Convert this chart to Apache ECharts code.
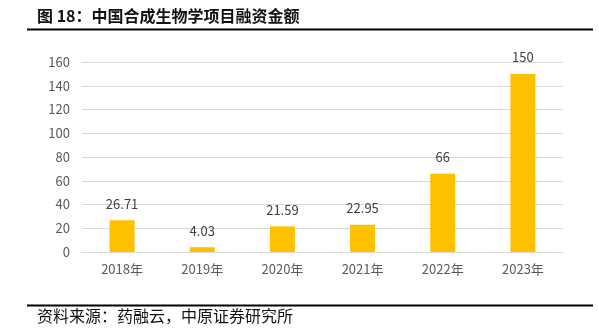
<!DOCTYPE html>
<html>
<head>
<meta charset="utf-8">
<script src="https://cdn.jsdelivr.net/npm/echarts@6/dist/echarts.min.js"></script>
<style>
html,body{margin:0;padding:0;background:#fff;}
#c{width:599px;height:333px;}
</style>
</head>
<body>
<div id="c"></div>
<script>
var titleText = '图 18：中国合成生物学项目融资金额';
var sourceText = '资料来源：药融云，中原证券研究所';
var categories = ['2018年', '2019年', '2020年', '2021年', '2022年', '2023年'];
var values = [26.71, 4.03, 21.59, 22.95, 66, 150];
var labelTexts = ['26.71', '4.03', '21.59', '22.95', '66', '150'];

var chart = echarts.init(document.getElementById('c'), null, {renderer: 'canvas'});
var font = '"Noto Sans CJK SC", "Noto Sans", sans-serif';
chart.setOption({
  animation: false,
  backgroundColor: '#ffffff',
  grid: {left: 82, right: 36, top: 62, bottom: 81},
  xAxis: {
    type: 'category',
    data: categories,
    axisLine: {show: true, lineStyle: {color: '#d9d9d9', width: 1}},
    axisTick: {show: false},
    axisLabel: {color: '#595959', fontSize: 13, margin: 11, fontFamily: font}
  },
  yAxis: {
    type: 'value',
    min: 0, max: 160, interval: 20,
    axisLine: {show: false},
    axisTick: {show: false},
    splitLine: {lineStyle: {color: '#d9d9d9', width: 1}},
    axisLabel: {color: '#595959', fontSize: 13, margin: 12, fontFamily: font}
  },
  series: [{
    type: 'bar',
    data: values,
    barWidth: 25,
    itemStyle: {color: '#FFC000'},
    label: {
      show: true,
      position: 'top',
      distance: 10,
      color: '#404040',
      fontSize: 13,
      fontFamily: font,
      formatter: function (p) { return labelTexts[p.dataIndex]; }
    }
  }],
  graphic: [
    {type: 'text', left: 37, top: 8, style: {text: titleText, fill: '#111', font: 'bold 16px ' + font}},
    {type: 'line', shape: {x1: 27, y1: 29.5, x2: 593, y2: 29.5}, style: {stroke: '#000', lineWidth: 2}},
    {type: 'line', shape: {x1: 27, y1: 305.5, x2: 593, y2: 305.5}, style: {stroke: '#000', lineWidth: 2}},
    {type: 'text', left: 37, top: 308, style: {text: sourceText, fill: '#111', font: '16px ' + font}}
  ]
});
</script>
</body>
</html>
